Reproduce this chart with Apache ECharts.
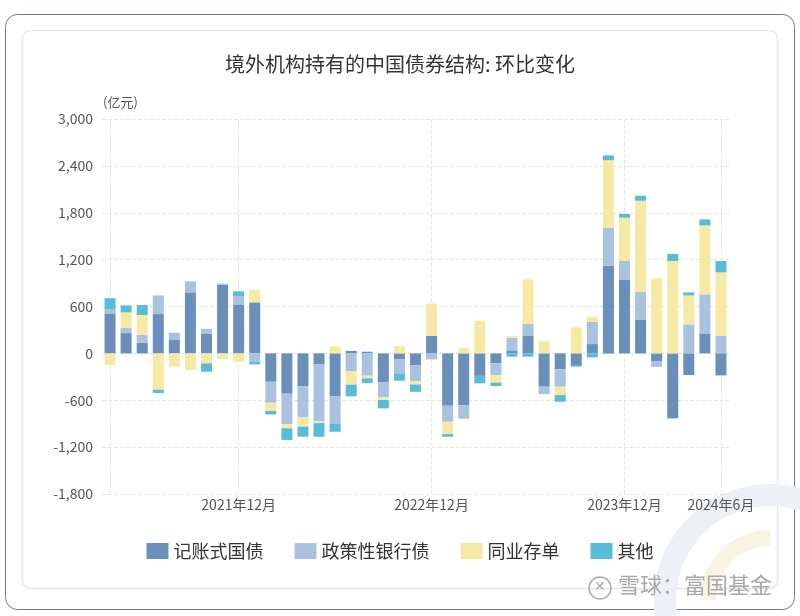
<!DOCTYPE html>
<html>
<head>
<meta charset="utf-8">
<script src="https://cdn.jsdelivr.net/npm/echarts@6/dist/echarts.min.js"></script>
<style>
html,body{margin:0;padding:0;background:#fff;}
#chart{width:800px;height:616px;}
</style>
</head>
<body>
<div id="chart"></div>
<script>
const categories = [
  '2021年4月','2021年5月','2021年6月','2021年7月','2021年8月','2021年9月','2021年10月','2021年11月','2021年12月',
  '2022年1月','2022年2月','2022年3月','2022年4月','2022年5月','2022年6月','2022年7月','2022年8月','2022年9月','2022年10月','2022年11月','2022年12月',
  '2023年1月','2023年2月','2023年3月','2023年4月','2023年5月','2023年6月','2023年7月','2023年8月','2023年9月','2023年10月','2023年11月','2023年12月',
  '2024年1月','2024年2月','2024年3月','2024年4月','2024年5月','2024年6月'
];
const shownLabels = ['2021年12月','2022年12月','2023年12月','2024年6月'];
const gridMarks = ['2021年4月','2021年12月','2022年12月','2023年12月','2024年6月'];
const yTicks = [-1800,-1200,-600,0,600,1200,1800,2400,3000];

const treasury = [512,260,137,503,179,781,248,879,619,653,-363,-516,-422,-141,-550,32,21,-371,-73,-154,226,-670,-666,-288,-128,30,222,-427,-205,-149,119,1122,947,435,-98,-832,-277,256,-282];
const policyBank = [55,64,102,239,85,141,64,15,111,-107,-269,-388,-397,-730,-346,-230,-286,-192,-183,-201,-77,-205,-171,0,-149,171,154,-94,-222,0,284,486,235,354,-73,0,371,499,222];
const ncd = [-150,200,252,-465,-171,-213,-128,-73,-107,162,-105,-55,-119,-21,90,-171,-34,-34,94,-43,414,-158,68,416,-98,21,572,158,-107,333,66,866,555,1165,960,1182,371,883,815];
const others = [140,90,128,-43,0,0,-107,0,64,-34,-45,-149,-128,-175,-107,-149,-60,-107,-94,-94,0,-34,0,-96,-43,-43,-43,0,-85,-21,-51,60,47,64,0,90,38,77,145];

const seriesNames = ['记账式国债','政策性银行债','同业存单','其他'];
const seriesData = [treasury, policyBank, ncd, others];
const colors = ['#6b8fbb','#a9c2e0','#f6e9a3','#58bcd9'];

const font = '"Noto Sans CJK SC","Noto Sans",sans-serif';
const chart = echarts.init(document.getElementById('chart'), null, {renderer:'canvas'});

const series = seriesData.map((d, i) => ({
  name: seriesNames[i],
  type: 'bar',
  stack: 'total',
  barWidth: 11,
  z: 3,
  itemStyle: { color: colors[i] },
  data: d
}));
series.push({
  name: 'marks',
  type: 'line',
  data: [],
  z: 0,
  silent: true,
  markLine: {
    silent: true,
    z: 0,
    symbol: 'none',
    label: { show: false },
    lineStyle: { color: '#e6e6e6', type: 'dashed', width: 1 },
    data: gridMarks.map(c => ({ xAxis: c }))
  }
});

chart.setOption({
  backgroundColor: '#fff',
  animation: false,
  color: colors,
  textStyle: { fontFamily: font },
  title: {
    text: '境外机构持有的中国债券结构: 环比变化',
    left: 'center',
    top: 49,
    textStyle: { fontFamily: font, fontSize: 20, fontWeight: 'normal', color: '#333' }
  },
  legend: {
    data: seriesNames,
    top: 537,
    left: 'center',
    itemWidth: 22,
    itemHeight: 16,
    itemGap: 31,
    icon: 'rect',
    textStyle: { fontFamily: font, fontSize: 18, color: '#333' }
  },
  grid: { left: 102, right: 71, top: 119, bottom: 122, containLabel: false },
  xAxis: {
    type: 'category',
    data: categories,
    boundaryGap: true,
    axisLine: { show: false },
    axisTick: { show: false },
    splitLine: { show: false },
    axisLabel: {
      interval: (idx, val) => shownLabels.includes(val),
      margin: 4,
      fontFamily: font,
      fontSize: 14,
      color: '#555'
    }
  },
  yAxis: {
    type: 'value',
    min: yTicks[0],
    max: yTicks[yTicks.length - 1],
    interval: 600,
    axisLine: { show: false },
    axisTick: { show: false },
    axisLabel: {
      margin: 9,
      fontFamily: font,
      fontSize: 14,
      color: '#555',
      formatter: v => v.toLocaleString('en-US')
    },
    splitLine: { lineStyle: { color: '#e3e3e3', type: 'dashed' } }
  },
  graphic: [
    { type: 'rect', z: -10, shape: { x: 5.5, y: 14.5, width: 789, height: 595, r: 12 }, style: { fill: 'none', stroke: '#6e7f90', lineWidth: 1 } },
    { type: 'rect', z: -10, shape: { x: 22.5, y: 30.5, width: 755, height: 558, r: 8 }, style: { fill: 'none', stroke: '#e3e7ec', lineWidth: 1.5 } },
    { type: 'arc', z: -9, shape: { cx: 770, cy: 600, r: 105, startAngle: Math.PI * 0.95, endAngle: Math.PI * 1.6 }, style: { fill: 'none', stroke: '#edf1f6', lineWidth: 22 } },
    { type: 'arc', z: -9, shape: { cx: 770, cy: 600, r: 62, startAngle: Math.PI * 1.0, endAngle: Math.PI * 1.5 }, style: { fill: 'none', stroke: '#f8f3e2', lineWidth: 16 } },
    { type: 'text', z: 10, left: 103, top: 96, style: { text: '(亿元)', font: '13px ' + font, fill: '#555', textAlign: 'center' } },
    { type: 'circle', z: 10, shape: { cx: 600, cy: 588, r: 11 }, style: { fill: 'none', stroke: '#aaa', lineWidth: 1.5 } },
    { type: 'text', z: 10, left: 594, top: 579, style: { text: '✕', font: '14px ' + font, fill: '#aaa' } },
    { type: 'text', z: 10, left: 618, top: 574, style: { text: '雪球：富国基金', font: '22px ' + font, fill: '#a8a8a8' } }
  ],
  series: series
});
</script>
</body>
</html>
